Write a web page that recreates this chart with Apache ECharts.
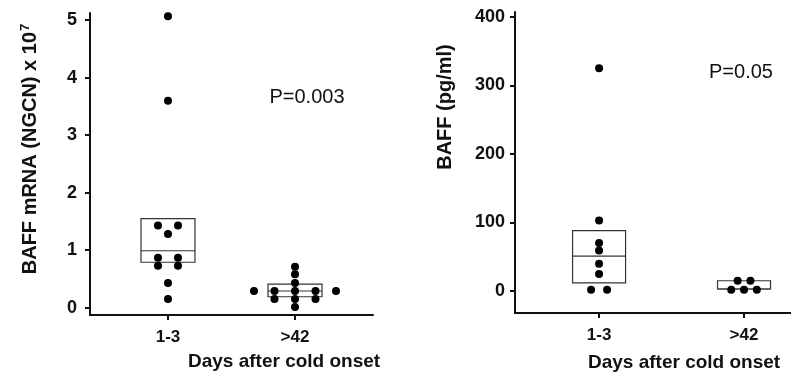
<!DOCTYPE html>
<html>
<head>
<meta charset="utf-8">
<script src="https://cdn.jsdelivr.net/npm/echarts@6/dist/echarts.min.js"></script>
<style>
  html, body {margin: 0; padding: 0; background: #fff;}
  #chart {width: 791px; height: 382px;}
</style>
</head>
<body>
<div id="chart"></div>
<script>
// groups on the x axis
const categories = ['1-3', '>42'];

// BAFF mRNA (NGCN) x 10^7
const mrnaEarly = [5.07, 3.60, 1.43, 1.43, 1.28, 0.87, 0.87, 0.73, 0.73, 0.43, 0.15];
const mrnaLate = [0.71, 0.58, 0.43, 0.29, 0.29, 0.29, 0.29, 0.29, 0.15, 0.15, 0.15, 0.01];
// [q1, median, q3]
const mrnaBoxes = [[0.79, 0.99, 1.55], [0.19, 0.29, 0.41]];

// BAFF protein pg/ml
const proteinEarly = [325, 103, 70, 59, 40, 25, 2, 2];
const proteinLate = [15, 15, 2, 2, 2];
const proteinBoxes = [[12, 51, 88], [3, 3, 15]];

const mrnaTicks = [0, 1, 2, 3, 4, 5];
const proteinTicks = [0, 100, 200, 300, 400];

const ink = '#111';
const labelFont = 'Liberation Sans, Arial, sans-serif';

// spread equal values sideways like a dot plot
function dots(values, group, spacing) {
	const counts = {};
	values.forEach(v => counts[v] = (counts[v] || 0) + 1);
	const seen = {};
	return values.map(v => {
		const i = seen[v] = (seen[v] === undefined ? 0 : seen[v] + 1);
		const off = (i - (counts[v] - 1) / 2) * spacing;
		return {value: [group, v], symbolOffset: [off, 0]};
	});
}

function boxSeries(boxes, xAxisIndex, halfW) {
	return {
		type: 'custom',
		xAxisIndex: xAxisIndex,
		yAxisIndex: xAxisIndex,
		data: boxes.map((b, i) => [i + 1, b[0], b[1], b[2]]),
		z: 1,
		renderItem: (params, api) => {
			const x = api.value(0);
			const lo = api.coord([x, api.value(1)]);
			const md = api.coord([x, api.value(2)]);
			const hi = api.coord([x, api.value(3)]);
			const st = {stroke: '#333', fill: 'none', lineWidth: 1.2};
			return {
				type: 'group',
				children: [
					{type: 'rect', shape: {x: lo[0] - halfW, y: hi[1], width: halfW * 2, height: lo[1] - hi[1]}, style: st},
					{type: 'line', shape: {x1: md[0] - halfW, y1: md[1], x2: md[0] + halfW, y2: md[1]}, style: st}
				]
			};
		}
	};
}

function dotSeries(data, idx) {
	return {
		type: 'scatter',
		xAxisIndex: idx,
		yAxisIndex: idx,
		symbolSize: 8,
		itemStyle: {color: '#000', opacity: 1},
		z: 3,
		data: data
	};
}

function xAxis(gridIndex, min, max) {
	return {
		type: 'value',
		gridIndex: gridIndex,
		min: min,
		max: max,
		splitLine: {show: false},
		axisLine: {show: true, onZero: false, lineStyle: {color: ink, width: 2}},
		axisTick: {show: true, length: 5, customValues: [1, 2], lineStyle: {color: ink, width: 2}},
		axisLabel: {
			customValues: [1, 2],
			formatter: v => categories[v - 1],
			color: ink, fontFamily: labelFont, fontWeight: 'bold', fontSize: 17, margin: 14
		}
	};
}

function yAxis(gridIndex, min, max, ticks, margin) {
	return {
		type: 'value',
		gridIndex: gridIndex,
		min: min,
		max: max,
		splitLine: {show: false},
		axisLine: {show: true, onZero: false, lineStyle: {color: ink, width: 2}},
		axisTick: {show: true, length: 5, customValues: ticks, lineStyle: {color: ink, width: 2}},
		axisLabel: {
			customValues: ticks,
			color: ink, fontFamily: labelFont, fontWeight: 'bold', fontSize: 18, margin: margin
		}
	};
}

const myChart = echarts.init(document.getElementById('chart'));
myChart.setOption({
	animation: false,
	backgroundColor: '#fff',
	grid: [
		{left: 90, width: 283, top: 13, height: 302},
		{left: 515, right: 0, top: 12, height: 301}
	],
	xAxis: [xAxis(0, 0.386, 2.614), xAxis(1, 0.42, 2.324)],
	yAxis: [yAxis(0, -0.127, 5.125, mrnaTicks, 13), yAxis(1, -32, 407, proteinTicks, 10)],
	series: [
		boxSeries(mrnaBoxes, 0, 27),
		dotSeries(dots(mrnaEarly, 1, 20).concat(dots(mrnaLate, 2, 20.5)), 0),
		boxSeries(proteinBoxes, 1, 26.5),
		dotSeries(dots(proteinEarly, 1, 16).concat(dots(proteinLate, 2, 12.8)), 1)
	],
	graphic: [
		{
			type: 'text', x: 30, y: 149, rotation: Math.PI / 2,
			style: {
				text: '{a|BAFF mRNA (NGCN) x 10}{s|7}',
				align: 'center', verticalAlign: 'middle', fill: ink,
				rich: {
					a: {fontFamily: labelFont, fontWeight: 'bold', fontSize: 20, fill: ink},
					s: {fontFamily: labelFont, fontWeight: 'bold', fontSize: 13, fill: ink, padding: [0, 0, 9, 1]}
				}
			}
		},
		{
			type: 'text', x: 445, y: 107, rotation: Math.PI / 2,
			style: {text: 'BAFF (pg/ml)', align: 'center', verticalAlign: 'middle', fill: ink,
				font: 'bold 20px ' + labelFont}
		},
		{
			type: 'text', x: 188, y: 362,
			style: {text: 'Days after cold onset', align: 'left', verticalAlign: 'middle', fill: ink,
				font: 'bold 19px ' + labelFont}
		},
		{
			type: 'text', x: 588, y: 363,
			style: {text: 'Days after cold onset', align: 'left', verticalAlign: 'middle', fill: ink,
				font: 'bold 19px ' + labelFont}
		},
		{
			type: 'text', x: 307, y: 97,
			style: {text: 'P=0.003', align: 'center', verticalAlign: 'middle', fill: ink,
				font: '20px ' + labelFont}
		},
		{
			type: 'text', x: 741, y: 72,
			style: {text: 'P=0.05', align: 'center', verticalAlign: 'middle', fill: ink,
				font: '20px ' + labelFont}
		}
	]
});
</script>
</body>
</html>
